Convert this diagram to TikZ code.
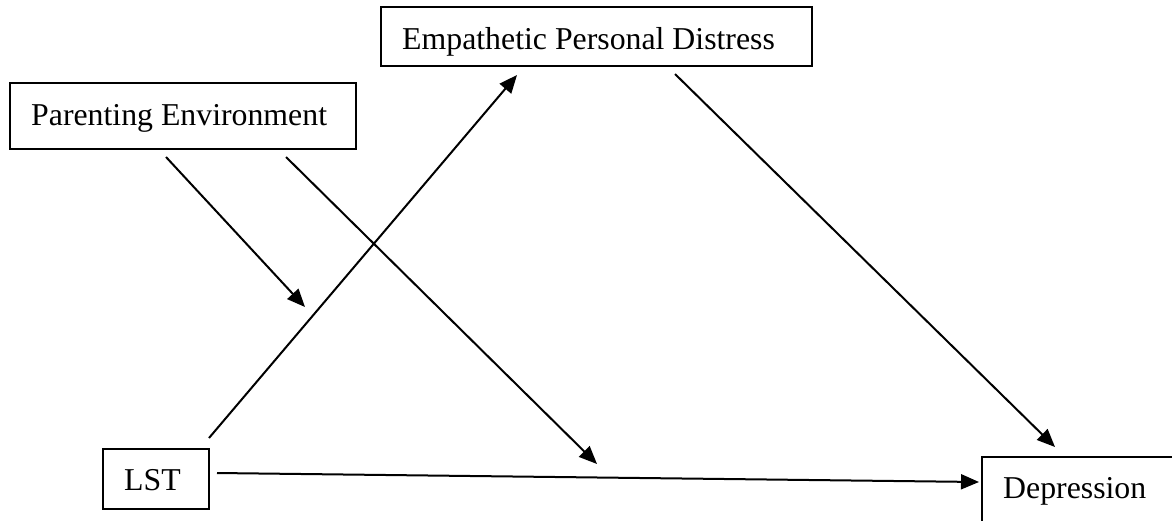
\documentclass[tikz,border=0pt]{standalone}
\usepackage{fontspec}
\setmainfont{Liberation Serif}
\usetikzlibrary{arrows.meta}
\begin{document}
\begin{tikzpicture}[x=1pt,y=-1pt,
  box/.style={draw,line width=1.8pt,rectangle,inner sep=0pt},
  lbl/.style={anchor=base west,inner sep=0pt,font=\fontsize{31.8pt}{38pt}\selectfont},
  conn/.style={line width=2pt,-{Triangle[length=18pt,width=15pt]}}]
\useasboundingbox (0,0) rectangle (1172,520);
% boxes
\node[box,minimum width=431pt,minimum height=59pt] (epd) at (596.5,36.5) {};
\node[box,minimum width=346pt,minimum height=66pt] (pe) at (183,116) {};
\node[box,minimum width=106pt,minimum height=60pt] (lst) at (156,479) {};
\node[box,minimum width=203pt,minimum height=78pt] (dep) at (1083.5,496) {};
% labels
\node[lbl] (epdt) at (402,49) {Empathetic Personal Distress};
\node[lbl] (pet) at (31,125) {Parenting Environment};
\node[lbl] (lstt) at (124,490) {LST};
\node[lbl] (dept) at (1003,498) {Depression};
% connector end points
\coordinate (lstA) at (209,438);
\coordinate (epdIn) at (517,75);
\coordinate (lstB) at (217,473);
\coordinate (depIn) at (979,482);
\coordinate (epdOut) at (675,74);
\coordinate (depTop) at (1055,447);
\coordinate (peA) at (166,157);
\coordinate (modA) at (305,307);
\coordinate (peB) at (286,157);
\coordinate (modB) at (597,464);
% connectors
\draw[conn] (lstA) -- (epdIn);
\draw[conn] (lstB) -- (depIn);
\draw[conn] (epdOut) -- (depTop);
\draw[conn] (peA) -- (modA);
\draw[conn] (peB) -- (modB);
\end{tikzpicture}
\end{document}
